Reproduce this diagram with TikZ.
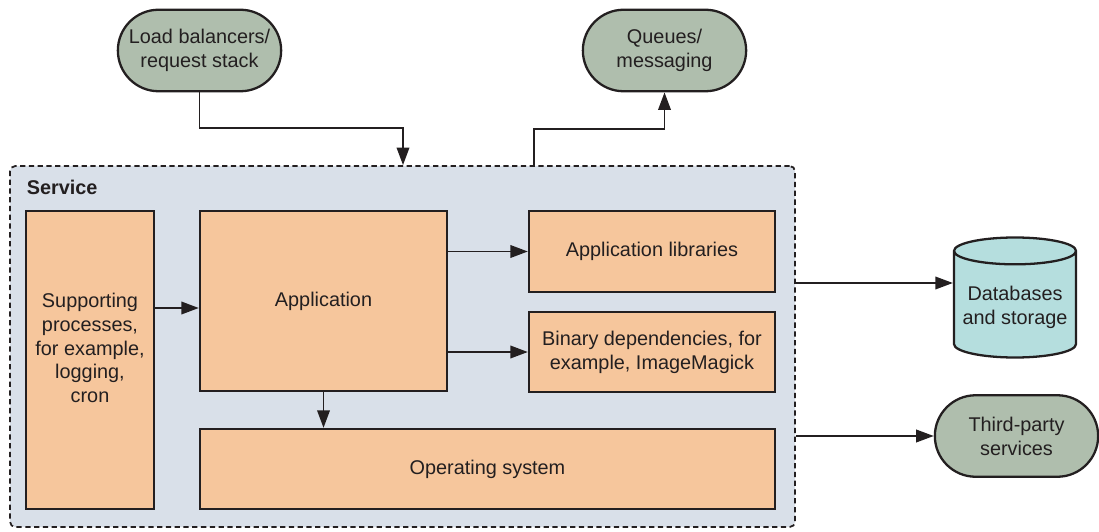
\documentclass[tikz,border=0pt]{standalone}
\usepackage{fontspec}
\setmainfont{Liberation Sans}
\usepackage{tikz}
\usetikzlibrary{arrows.meta,shapes.misc,shapes.geometric}
\definecolor{ink}{HTML}{231F20}
\definecolor{appfill}{HTML}{F6C69C}
\definecolor{svcfill}{HTML}{D9E0E9}
\definecolor{extfill}{HTML}{AFBEAD}
\definecolor{dbfill}{HTML}{B5DEDE}

\begin{document}
\begin{tikzpicture}[>={Triangle[length=3.5mm,width=2.5mm]},line width=1.1pt,ink,
  font=\fontsize{11.3}{13.6}\selectfont,
  box/.style={draw=ink,fill=appfill,line width=1.3pt,align=center,inner sep=2pt},
  ext/.style={draw=ink,fill=extfill,line width=1.3pt,rounded rectangle,align=center,
    minimum width=3.5cm,minimum height=1.63cm}]
\useasboundingbox (0,0) rectangle (21.98,10.62);
\node[draw=ink,fill=svcfill,line width=1pt,dash pattern=on 3pt off 2pt,rounded corners=3pt,
  minimum width=15.7cm,minimum height=7.22cm] (serv) at (8.05,3.69) {};
\node[anchor=west,font=\fontsize{11.3}{13.6}\selectfont\bfseries] (svclabel) at (0.4,6.88) {Service};
\node[box,minimum width=2.56cm,minimum height=5.96cm] (supp) at (1.8,3.42) {};
\node[align=center] (supptext) at (1.8,3.66)
  {Supporting\\processes,\\for example,\\logging,\\cron};
\node[box,minimum width=4.94cm,minimum height=3.6cm] (app) at (6.47,4.6) {Application};
\node[box,minimum width=4.92cm,minimum height=1.62cm] (lib) at (13.04,5.59) {Application libraries};
\node[box,minimum width=4.92cm,minimum height=1.6cm] (bin) at (13.04,3.58)
  {Binary dependencies, for\\example, ImageMagick};
\node[box,minimum width=11.5cm,minimum height=1.6cm] (os) at (9.75,1.24) {Operating system};
\node[ext] (lb) at (3.99,9.61) {Load balancers/\\request stack};
\node[ext] (qu) at (13.29,9.61) {Queues/\\messaging};
\node[ext] (tp) at (20.33,1.9) {Third-party\\services};
\node[draw=ink,fill=dbfill,line width=1.3pt,cylinder,shape border rotate=90,aspect=0.23,
  align=center,minimum width=2.44cm,minimum height=2.4cm,anchor=shape center] (db)
  at (20.3,4.67) {Databases\\and storage};
\draw[->] (lb.south) |- (8.06,8.06) -- (serv.north -| 8.06,0);
\draw[->] (serv.north -| 10.68,0) |- (qu.south |- 0,8.04) -- (qu.south);
\draw[->] (supp.east |- 0,4.46) -- (app.west |- 0,4.46);
\draw[->] (app.east |- lib.west) -- (lib.west);
\draw[->] (app.east |- bin.west) -- (bin.west);
\draw[->] (app.south) -- (os.north -| app.south);
\draw[->] (serv.east |- 0,4.96) -- (db.west |- 0,4.96);
\draw[->] (serv.east |- tp.west) -- (tp.west);
\end{tikzpicture}
\end{document}
